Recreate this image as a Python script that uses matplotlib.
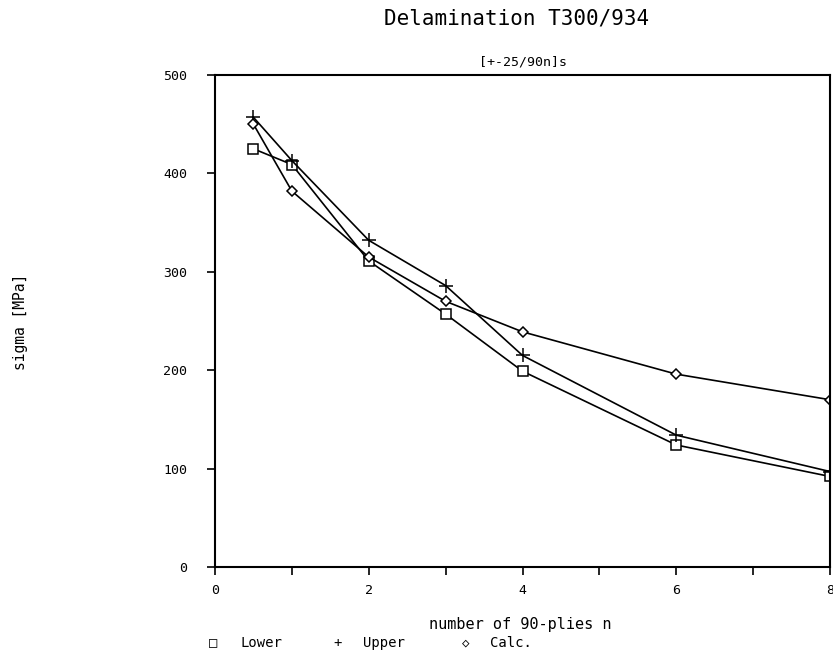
import numpy as np
import matplotlib
matplotlib.use("Agg")
import matplotlib.pyplot as plt
from matplotlib.ticker import MultipleLocator

# number of 90-plies n
n_plies = [0.5, 1, 2, 3, 4, 6, 8]

# sigma [MPa]
lower = [425, 409, 311, 257, 199, 124, 92]
upper = [457, 413, 332, 286, 215, 134, 97]
calc = [450, 382, 315, 270, 239, 196, 170]

plt.rcParams["font.family"] = ["DejaVu Sans Mono"]

fig = plt.figure(figsize=(8.33, 6.55), dpi=100)
ax = fig.add_axes([215 / 833, 1 - 567 / 655, 615 / 833, 492 / 655])

line_kw = dict(color="black", linewidth=1.2, markerfacecolor="white",
               markeredgecolor="black", markeredgewidth=1.1)
ax.plot(n_plies, lower, marker="s", markersize=7, **line_kw)
ax.plot(n_plies, upper, marker="+", markersize=10, **line_kw)
ax.plot(n_plies, calc, marker="D", markersize=5.5, **line_kw)

ax.set_xlim(0, 8)
ax.set_ylim(0, 500)
ax.xaxis.set_major_locator(MultipleLocator(2))
ax.xaxis.set_minor_locator(MultipleLocator(1))
ax.yaxis.set_major_locator(MultipleLocator(100))
ax.tick_params(axis="both", which="major", direction="out", length=6,
               width=1.2, labelsize=9.5, pad=6)
ax.tick_params(axis="x", which="minor", direction="out", length=6, width=1.2)
ax.tick_params(axis="y", pad=14)
for s in ax.spines.values():
    s.set_linewidth(1.5)

ax.set_title("[+-25/90n]s", fontsize=9.5, pad=7)

fig.text(517 / 833, 1 - 18 / 655, "Delamination T300/934", ha="center",
         va="center", fontsize=15)
fig.text(520 / 833, 1 - 625 / 655, "number of 90-plies n", ha="center",
         va="center", fontsize=11)
fig.text(21 / 833, 1 - 322 / 655, "sigma [MPa]", ha="center", va="center",
         rotation=90, fontsize=10.5)

# legend row under the x label
leg_y = 1 - 643 / 655
fig.text(213 / 833, leg_y, "\u25a1", ha="center", va="center", fontsize=10)
fig.text(240 / 833, leg_y, "Lower", ha="left", va="center", fontsize=10)
fig.text(338 / 833, leg_y, "+", ha="center", va="center", fontsize=10)
fig.text(363 / 833, leg_y, "Upper", ha="left", va="center", fontsize=10)
fig.text(466 / 833, leg_y, "\u25c7", ha="center", va="center", fontsize=9)
fig.text(490 / 833, leg_y, "Calc.", ha="left", va="center", fontsize=10)

fig.savefig("out.png", dpi=100)
